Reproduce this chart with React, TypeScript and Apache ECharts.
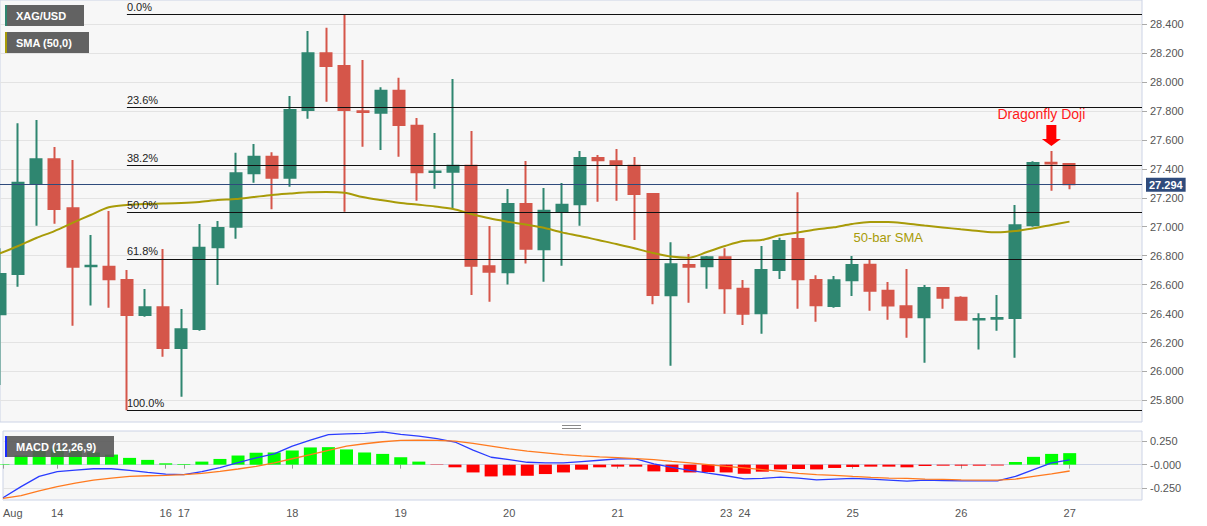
import React, { useEffect, useRef } from "react";
import * as echarts from "echarts";

// ---------- data ----------
const barCount = 64; // 60 candles + empty slots on the right
const categories = Array.from({ length: barCount }, (_, i) => String(i));

const dayTickBars = [0, 3, 9, 10, 16, 22, 28, 34, 40, 41, 47, 53, 59];
const dayTickLabels = ["Aug", "14", "16", "17", "18", "19", "20", "21", "23", "24", "25", "26", "27"];

const opens = [
  26.395, 26.673, 27.295, 27.466, 27.127, 26.727, 26.724, 26.632, 26.39, 26.443,
  26.162, 26.294, 26.858, 27.0, 27.369, 27.484, 27.338, 27.806, 28.198, 28.11,
  27.798, 27.787, 27.939, 27.698, 27.378, 27.38, 27.421, 26.727, 26.685, 27.157,
  26.844, 27.104, 27.155, 27.475, 27.452, 27.421, 27.226, 26.526, 26.736, 26.727,
  26.789, 26.572, 26.402, 26.701, 26.915, 26.632, 26.452, 26.63, 26.738, 26.558,
  26.45, 26.374, 26.577, 26.51, 26.359, 26.365, 26.37, 27.01, 27.442, 27.433,
];
const closes = [
  26.673, 27.304, 27.466, 27.122, 26.724, 26.731, 26.637, 26.39, 26.443, 26.162,
  26.291, 26.855, 26.991, 27.369, 27.484, 27.338, 27.806, 28.198, 28.11, 27.806,
  27.792, 27.939, 27.702, 27.376, 27.382, 27.421, 26.731, 26.689, 27.157, 26.848,
  27.11, 27.152, 27.475, 27.459, 27.428, 27.226, 26.528, 26.741, 26.724, 26.789,
  26.575, 26.399, 26.701, 26.901, 26.637, 26.457, 26.63, 26.736, 26.558, 26.455,
  26.374, 26.577, 26.51, 26.358, 26.363, 26.369, 27.01, 27.44, 27.436, 27.294,
];
const lows = [
  25.907, 26.586, 27.007, 27.021, 26.316, 26.455, 26.441, 25.732, 26.378, 26.102,
  25.826, 26.282, 26.597, 26.917, 27.304, 27.12, 27.276, 27.746, 27.863, 27.104,
  27.553, 27.53, 27.484, 27.18, 27.262, 27.127, 26.528, 26.482, 26.6, 26.745,
  26.62, 26.731, 27.007, 27.173, 27.18, 26.908, 26.464, 26.04, 26.475, 26.572,
  26.399, 26.321, 26.261, 26.639, 26.434, 26.344, 26.441, 26.521, 26.42, 26.358,
  26.233, 26.061, 26.434, 26.358, 26.151, 26.282, 26.095, 27.0, 27.249, 27.258,
];
const highs = [
  26.851, 27.714, 27.737, 27.55, 27.461, 26.943, 27.108, 26.701, 26.57, 26.846,
  26.432, 27.019, 27.039, 27.511, 27.571, 27.514, 27.903, 28.352, 28.374, 28.467,
  28.151, 27.963, 28.029, 27.751, 27.647, 28.02, 27.661, 27.005, 27.26, 27.454,
  27.267, 27.302, 27.523, 27.495, 27.537, 27.481, 27.226, 26.892, 26.812, 26.798,
  26.851, 26.632, 26.867, 26.924, 27.238, 26.664, 26.66, 26.798, 26.77, 26.618,
  26.708, 26.597, 26.579, 26.519, 26.402, 26.528, 27.15, 27.452, 27.523, 27.433,
];
const sma50 = [
  26.816, 26.867, 26.922, 26.97, 27.026, 27.081, 27.134, 27.15, 27.157, 27.16,
  27.164, 27.171, 27.184, 27.191, 27.205, 27.219, 27.229, 27.238, 27.24, 27.235,
  27.205, 27.184, 27.166, 27.153, 27.14, 27.122, 27.088, 27.058, 27.035, 27.015,
  26.993, 26.961, 26.936, 26.908, 26.881, 26.851, 26.819, 26.794, 26.786, 26.825,
  26.867, 26.901, 26.908, 26.941, 26.96, 26.981, 26.996, 27.019, 27.033, 27.033,
  27.022, 27.008, 26.995, 26.982, 26.97, 26.961, 26.97, 26.989, 27.012, 27.035,
];
const macdLine = [
  -0.348, -0.231, -0.124, -0.074, -0.057, -0.043, -0.043, -0.06, -0.082, -0.099,
  -0.106, -0.074, -0.032, 0.021, 0.071, 0.113, 0.195, 0.259, 0.316, 0.323,
  0.33, 0.344, 0.319, 0.301, 0.273, 0.238, 0.152, 0.078, 0.053, 0.025,
  0.018, 0.018, 0.032, 0.046, 0.06, 0.06, 0.007, -0.028, -0.06, -0.089,
  -0.117, -0.149, -0.145, -0.131, -0.142, -0.16, -0.152, -0.145, -0.152, -0.163,
  -0.174, -0.163, -0.167, -0.17, -0.17, -0.17, -0.124, -0.053, 0.018, 0.05,
];
const signalLine = [
  -0.355, -0.326, -0.277, -0.231, -0.195, -0.163, -0.142, -0.124, -0.117, -0.113,
  -0.106, -0.092, -0.071, -0.046, -0.018, 0.018, 0.062, 0.105, 0.15, 0.195,
  0.22, 0.241, 0.255, 0.259, 0.255, 0.248, 0.223, 0.195, 0.167, 0.142,
  0.124, 0.106, 0.092, 0.082, 0.074, 0.064, 0.053, 0.035, 0.018, 0.0,
  -0.018, -0.035, -0.053, -0.071, -0.092, -0.105, -0.112, -0.124, -0.135, -0.142,
  -0.145, -0.152, -0.156, -0.16, -0.163, -0.163, -0.152, -0.124, -0.096, -0.067,
];
const histogram = [
  0.005, 0.096, 0.152, 0.17, 0.149, 0.128, 0.106, 0.071, 0.05, 0.014,
  0.007, 0.032, 0.06, 0.096, 0.124, 0.128, 0.149, 0.181, 0.184, 0.16,
  0.128, 0.113, 0.078, 0.032, -0.004, -0.028, -0.082, -0.124, -0.113, -0.117,
  -0.099, -0.082, -0.053, -0.028, -0.021, -0.021, -0.071, -0.078, -0.082, -0.078,
  -0.082, -0.096, -0.074, -0.05, -0.046, -0.05, -0.035, -0.025, -0.021, -0.021,
  -0.028, -0.014, -0.011, -0.011, -0.011, -0.009, 0.028, 0.082, 0.113, 0.121,
];

const fibLabels = ["0.0%", "23.6%", "38.2%", "50.0%", "61.8%", "100.0%"];
const fibValues = [28.467, 27.822, 27.422, 27.1, 26.777, 25.732];
const fibStartBar = 7;

const lastPrice = 27.294;
const priceTicks = [25.8, 26.0, 26.2, 26.4, 26.6, 26.8, 27.0, 27.2, 27.4, 27.6, 27.8, 28.0, 28.2, 28.4];
const macdTicks = [0.25, 0, -0.25];
const macdTickLabels = ["0.250", "-0.000", "-0.250"];

// ---------- styles ----------
const GREEN = "#2f8670";
const RED = "#d5564a";
const OLIVE = "#a89b08";
const FONT = 'Arial, "Liberation Sans", sans-serif';
const BORDER = "#ccd3e6";

function buildOption() {
  const candleData = opens.map((o, i) => [o, closes[i], lows[i], highs[i]]);
  const lastCat = categories[categories.length - 1];

  const fibLines = fibValues.map((v, i) => [
    {
      coord: [String(fibStartBar), v],
      lineStyle: { color: "#111", width: 1.2, type: "solid" },
      label: {
        show: true,
        position: "insideStartTop",
        formatter: fibLabels[i],
        color: "#222",
        fontSize: 11,
        fontFamily: FONT,
        distance: [0, 2],
      },
    },
    { coord: [lastCat, v] },
  ]);

  const tickSet = (idx: number) => dayTickBars.indexOf(idx) >= 0;

  return {
    animation: false,
    backgroundColor: "#ffffff",
    textStyle: { fontFamily: FONT },
    grid: [
      { left: 0, top: 0, width: 1142, height: 422, show: true, backgroundColor: "#f7f7f7", borderColor: BORDER, borderWidth: 1 },
      { left: 0, top: 431, width: 1142, height: 69, show: true, backgroundColor: "#f7f7f7", borderColor: BORDER, borderWidth: 1 },
    ],
    xAxis: [
      {
        type: "category",
        gridIndex: 0,
        data: categories,
        boundaryGap: false,
        axisLine: { show: false },
        axisTick: { show: false },
        axisLabel: { show: false },
        splitLine: { show: false },
      },
      {
        type: "category",
        gridIndex: 1,
        data: categories,
        boundaryGap: false,
        axisLine: { show: true, lineStyle: { color: BORDER } },
        axisTick: { show: true, interval: (i: number) => tickSet(i), length: 4, lineStyle: { color: "#999" } },
        axisLabel: {
          interval: (i: number) => tickSet(i),
          formatter: (_v: string, i: number) => {
            const k = dayTickBars.indexOf(i);
            return k >= 0 ? dayTickLabels[k] : "";
          },
          color: "#555",
          fontSize: 11,
          margin: 7,
          alignMinLabel: "left",
        },
        splitLine: { show: false },
      },
    ],
    yAxis: [
      {
        type: "value",
        gridIndex: 0,
        position: "right",
        min: 25.651,
        max: 28.566,
        axisLine: { show: false },
        axisTick: { show: true, customValues: priceTicks, length: 5, lineStyle: { color: "#aaa" } },
        axisLabel: { customValues: priceTicks, formatter: (v: number) => v.toFixed(3), color: "#555", fontSize: 11, margin: 8 },
        splitLine: { show: true, lineStyle: { color: "#e3e3e3", width: 1 } },
      },
      {
        type: "value",
        gridIndex: 1,
        position: "right",
        min: -0.372,
        max: 0.354,
        axisLine: { show: false },
        axisTick: { show: true, customValues: macdTicks, length: 5, lineStyle: { color: "#aaa" } },
        axisLabel: {
          customValues: macdTicks,
          formatter: (v: number) => {
            const k = macdTicks.indexOf(v);
            return k >= 0 ? macdTickLabels[k] : "";
          },
          color: "#555",
          fontSize: 11,
          margin: 8,
        },
        splitLine: { show: true, lineStyle: { color: "#e3e3e3", width: 1 } },
      },
    ],
    series: [
      {
        type: "candlestick",
        name: "XAG/USD",
        xAxisIndex: 0,
        yAxisIndex: 0,
        data: candleData,
        barWidth: 11.5,
        clip: true,
        itemStyle: { color: GREEN, color0: RED, borderColor: GREEN, borderColor0: RED, borderWidth: 2 },
        markLine: {
          silent: true,
          symbol: ["none", "none"],
          animation: false,
          data: [
            ...fibLines,
            {
              yAxis: lastPrice,
              lineStyle: { color: "#2f4b7c", width: 1, type: "solid" },
              label: {
                show: true,
                position: "end",
                formatter: lastPrice.toFixed(3),
                backgroundColor: "#2f4b7c",
                color: "#fff",
                fontWeight: "bold",
                fontSize: 11,
                padding: [2, 3, 1, 3],
                distance: 4,
              },
            },
          ],
        },
        markPoint: {
          silent: true,
          animation: false,
          label: { show: false },
          data: [
            {
              coord: ["58", 27.63],
              symbol: "path://M4.5,0 L14.5,0 L14.5,14 L19,14 L9.5,21 L0,14 L4.5,14 Z",
              symbolSize: [19, 21],
              itemStyle: { color: "#ff0000" },
            },
            {
              coord: ["58", 27.778],
              symbol: "rect",
              symbolSize: 1,
              itemStyle: { color: "transparent" },
              label: { show: true, position: "inside", formatter: "Dragonfly Doji", color: "#ff1a1a", fontSize: 14, offset: [-10, 0] },
            },
            {
              coord: ["49", 26.925],
              symbol: "rect",
              symbolSize: 1,
              itemStyle: { color: "transparent" },
              label: { show: true, position: "inside", formatter: "50-bar SMA", color: OLIVE, fontSize: 13 },
            },
          ],
        },
      },
      {
        type: "line",
        name: "SMA (50,0)",
        xAxisIndex: 0,
        yAxisIndex: 0,
        data: sma50,
        smooth: 0.3,
        showSymbol: false,
        z: 3,
        lineStyle: { color: OLIVE, width: 2 },
      },
      {
        type: "bar",
        name: "Histogram",
        xAxisIndex: 1,
        yAxisIndex: 1,
        data: histogram,
        barWidth: 13,
        itemStyle: {
          color: (p: any) => (p.value >= 0 ? "#00ff00" : "#ff0000"),
        },
      },
      {
        type: "line",
        name: "MACD",
        xAxisIndex: 1,
        yAxisIndex: 1,
        data: macdLine,
        showSymbol: false,
        z: 4,
        lineStyle: { color: "#2a3cff", width: 1.3 },
      },
      {
        type: "line",
        name: "Signal",
        xAxisIndex: 1,
        yAxisIndex: 1,
        data: signalLine,
        showSymbol: false,
        z: 4,
        lineStyle: { color: "#ff7a1f", width: 1.3 },
      },
    ],
    graphic: [
      { type: "rect", z: 100, shape: { x: 5, y: 5, width: 79, height: 21 }, style: { fill: "#626262" } },
      { type: "rect", z: 101, shape: { x: 5, y: 5, width: 2, height: 21 }, style: { fill: GREEN } },
      { type: "text", z: 102, x: 16, y: 15.5, style: { text: "XAG/USD", fill: "#fff", font: `bold 11px ${FONT}`, verticalAlign: "middle" } },
      { type: "rect", z: 100, shape: { x: 5, y: 32, width: 84, height: 21 }, style: { fill: "#626262" } },
      { type: "rect", z: 101, shape: { x: 5, y: 32, width: 2, height: 21 }, style: { fill: OLIVE } },
      { type: "text", z: 102, x: 16, y: 42.5, style: { text: "SMA (50,0)", fill: "#fff", font: `bold 11px ${FONT}`, verticalAlign: "middle" } },
      { type: "rect", z: 100, shape: { x: 5, y: 436, width: 109, height: 21 }, style: { fill: "rgba(88,88,88,0.9)" } },
      { type: "rect", z: 101, shape: { x: 5, y: 436, width: 2, height: 21 }, style: { fill: "#1a2bff" } },
      { type: "text", z: 102, x: 16, y: 446.5, style: { text: "MACD (12,26,9)", fill: "#fff", font: `bold 11px ${FONT}`, verticalAlign: "middle" } },
      { type: "line", z: 100, shape: { x1: 562, y1: 425.5, x2: 581, y2: 425.5 }, style: { stroke: "#8a8a8a", lineWidth: 1 } },
      { type: "line", z: 100, shape: { x1: 562, y1: 428.5, x2: 581, y2: 428.5 }, style: { stroke: "#8a8a8a", lineWidth: 1 } },
    ],
  };
}

export default function App() {
  const ref = useRef<HTMLDivElement>(null);
  useEffect(() => {
    if (!ref.current) return;
    const chart = echarts.init(ref.current, null, { renderer: "svg" });
    chart.setOption(buildOption() as any);
    return () => chart.dispose();
  }, []);
  return <div ref={ref} style={{ position: "absolute", left: 0, top: 0, width: 1207, height: 526 }} />;
}
